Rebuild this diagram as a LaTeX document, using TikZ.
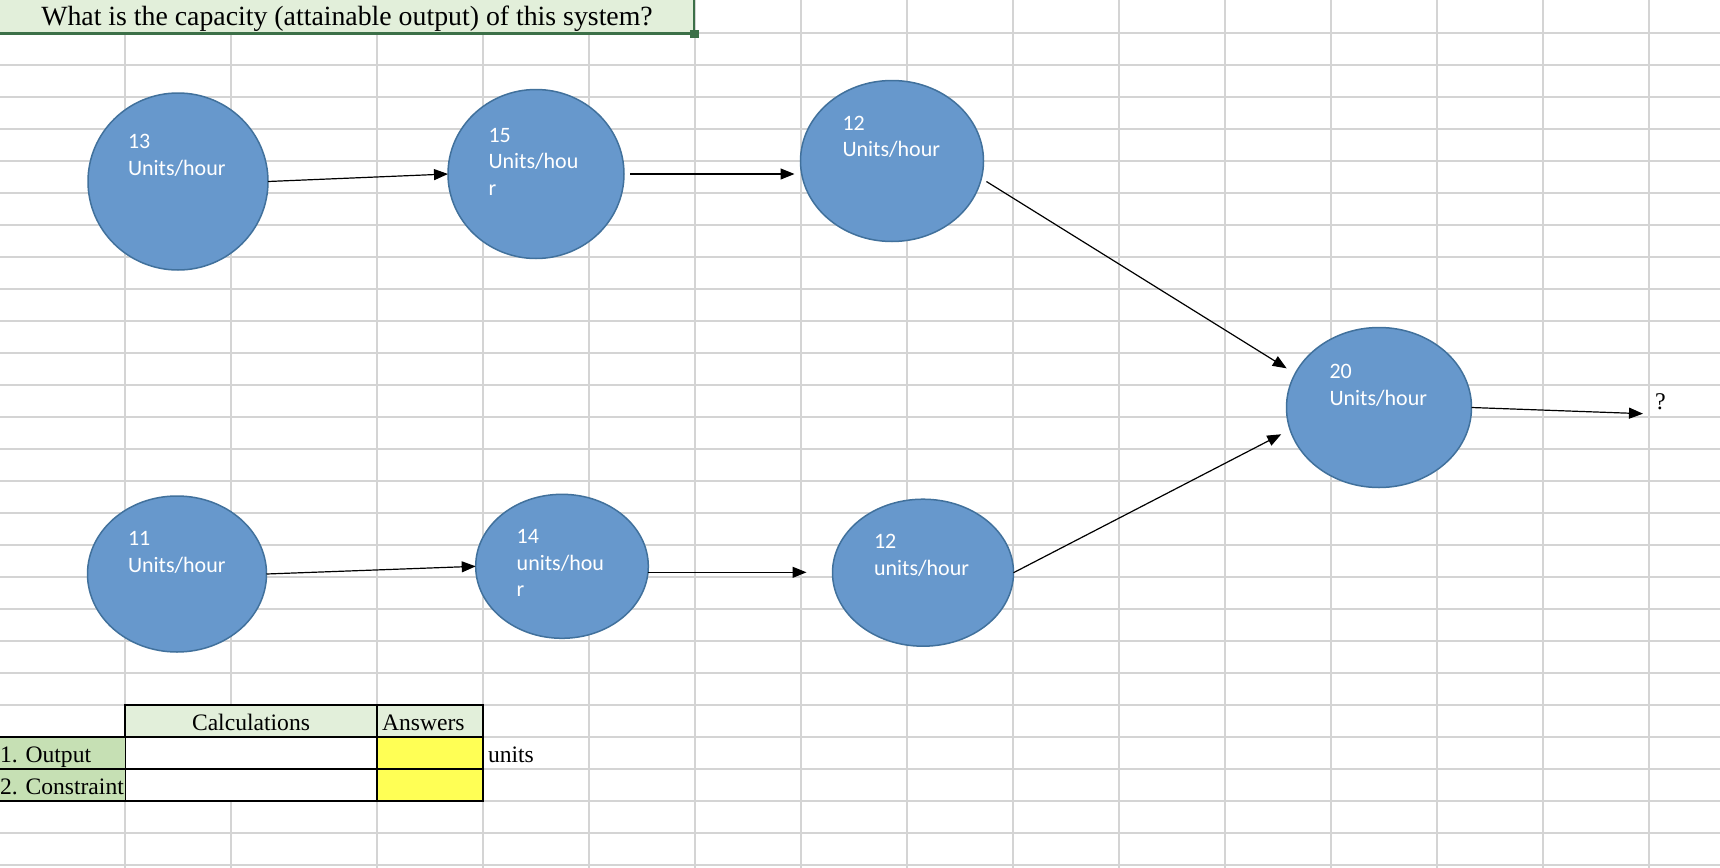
\documentclass[tikz,border=0pt]{standalone}
\usepackage{fontspec}
\setmainfont{Liberation Serif}
\newfontfamily\calibrifont{Carlito}
\usetikzlibrary{arrows.meta,positioning,shapes.geometric}

\definecolor{gridgray}{RGB}{212,212,212}
\definecolor{stationblue}{RGB}{103,152,204}
\definecolor{stationedge}{RGB}{65,113,156}
\definecolor{hdrgreen}{RGB}{226,239,218}
\definecolor{lblgreen}{RGB}{198,224,180}
\definecolor{selgreen}{RGB}{60,112,72}
\definecolor{ansyellow}{RGB}{255,255,85}

\begin{document}
\begin{tikzpicture}[
  x=0.5pt, y=-0.5pt,
  every node/.style={inner sep=0pt, outer sep=0pt},
  gridline/.style={draw=gridgray, line width=0.9pt},
  station/.style={ellipse, draw=stationedge, line width=0.75pt, fill=stationblue},
  rate/.style={anchor=base west, text width=60pt, align=left, text=white,
    font=\calibrifont\fontsize{11pt}{13.3pt}\selectfont},
  flow/.style={-{Triangle[length=7pt, width=5.5pt]}, line width=0.6pt},
  cell/.style={draw=black, line width=1pt, minimum height=16pt,
    text height=11pt, text depth=1.7pt, font=\fontsize{11.8pt}{14pt}\selectfont},
  qmark/.style={font=\fontsize{12pt}{14pt}\selectfont}
]
\useasboundingbox (0,0) rectangle (1720,868);
\fill[white] (0,0) rectangle (1720,868);

% --- SHEET GRID ---
\foreach \gx in {125,231,377,483,589,695,801,907,1013,1119,1225,1331,1437,1543,1649}
  \draw[gridline] (\gx,0) -- (\gx,868);
\foreach \k in {0,...,26}
  \draw[gridline] (0,{32.7+32*\k}) -- (1720,{32.7+32*\k});

% --- QUESTION CELL ---
\node[fill=hdrgreen, minimum width=347pt, minimum height=16.5pt,
      text height=10.5pt, text depth=2pt, font=\fontsize{13.9pt}{16pt}\selectfont]
  (question) at (347,16.5) {What is the capacity (attainable output) of this system?};
\draw[selgreen, line width=1.5pt] (question.south west) -- (question.south east);
\draw[selgreen, line width=1pt] (question.north east) -- (question.south east);
\fill[selgreen] ([shift={(-4,-3)}]question.south east) rectangle ++(9,8);

% --- UPPER LINE ---
\node[station, minimum width=90pt, minimum height=88.5pt] (topA) at (178,181.5) {};
\node[station, minimum width=88pt, minimum height=84.5pt] (topB) at (536,174) {};
\node[station, minimum width=91.5pt, minimum height=80.5pt] (topC) at (892,161) {};

\node[rate] (topAtxt) at (128,148.5) {13\\Units/hour};
\node[rate] (topBtxt) at (488.5,142) {15\\Units/hou\\r};
\node[rate] (topCtxt) at (842.5,130.3) {12\\Units/hour};

% --- LOWER LINE ---
\node[station, minimum width=89.5pt, minimum height=78pt] (botA) at (177,574) {};
\node[station, minimum width=86.3pt, minimum height=72pt] (botB) at (562,566.3) {};
\node[station, minimum width=90.5pt, minimum height=73.5pt] (botC) at (923,572.7) {};

\node[rate] (botAtxt) at (128,545.6) {11\\Units/hour};
\node[rate] (botBtxt) at (516.7,543.7) {14\\units/hou\\r};
\node[rate] (botCtxt) at (874,548.7) {12\\units/hour};

% --- FINAL STATION ---
\node[station, minimum width=92.5pt, minimum height=80pt] (merge) at (1379,407.5) {};
\node[rate] (mergetxt) at (1329.5,378.7) {20\\Units/hour};

\coordinate (outlet) at (1643,413.7);
\node[qmark, above right=1.75pt and 6pt of outlet] (answer) {?};

% --- FLOWS ---
\draw[flow] (topA.east) -- (topB.west);
\draw[flow, shorten <=3pt, shorten >=3pt] (topB.east) -- (topB.east -| topC.west);
\draw[flow, shorten <=3pt, shorten >=5pt] (topC.-11) -- (merge.158);

\draw[flow] (botA.east) -- (botB.west);
\draw[flow, shorten >=13pt] (botB.-4) -- (botB.-4 -| botC.west);
\draw[flow, shorten >=5pt] (botC.east) -- (merge.194);

\draw[flow] (merge.east) -- (outlet);

% --- ANSWER TABLE ---
\node[cell, fill=hdrgreen, minimum width=126pt] (calchdr) at (251,720.7) {Calculations};
\node[cell, fill=hdrgreen, minimum width=53pt, text width=48pt, inner xsep=2.5pt, align=left,
      right=0pt of calchdr] (anshdr) {Answers};

\node[cell, fill=white, minimum width=126pt, below=0pt of calchdr] (calc1) {};
\node[cell, fill=ansyellow, minimum width=53pt, right=0pt of calc1] (ans1) {};
\node[cell, draw=none, fill=lblgreen, minimum width=62.5pt, text width=62.5pt, align=left,
      left=0pt of calc1] (outlbl) {1.~Output};

\node[cell, fill=white, minimum width=126pt, below=0pt of calc1] (calc2) {};
\node[cell, fill=ansyellow, minimum width=53pt, right=0pt of calc2] (ans2) {};
\node[cell, draw=none, fill=lblgreen, minimum width=62.5pt, text width=62.5pt, align=left,
      left=0pt of calc2] (conlbl) {2.~Constraint};

% label cells: black top and bottom edges only
\draw[line width=1pt] (outlbl.north west) -- (calc1.north west);
\draw[line width=1pt] (outlbl.south west) -- (calc1.south west);
\draw[line width=1pt] (conlbl.south west) -- (calc2.south west);

\node[cell, draw=none, inner xsep=0pt, right=2.5pt of ans1] (unitlbl) {units};

\end{tikzpicture}
\end{document}
